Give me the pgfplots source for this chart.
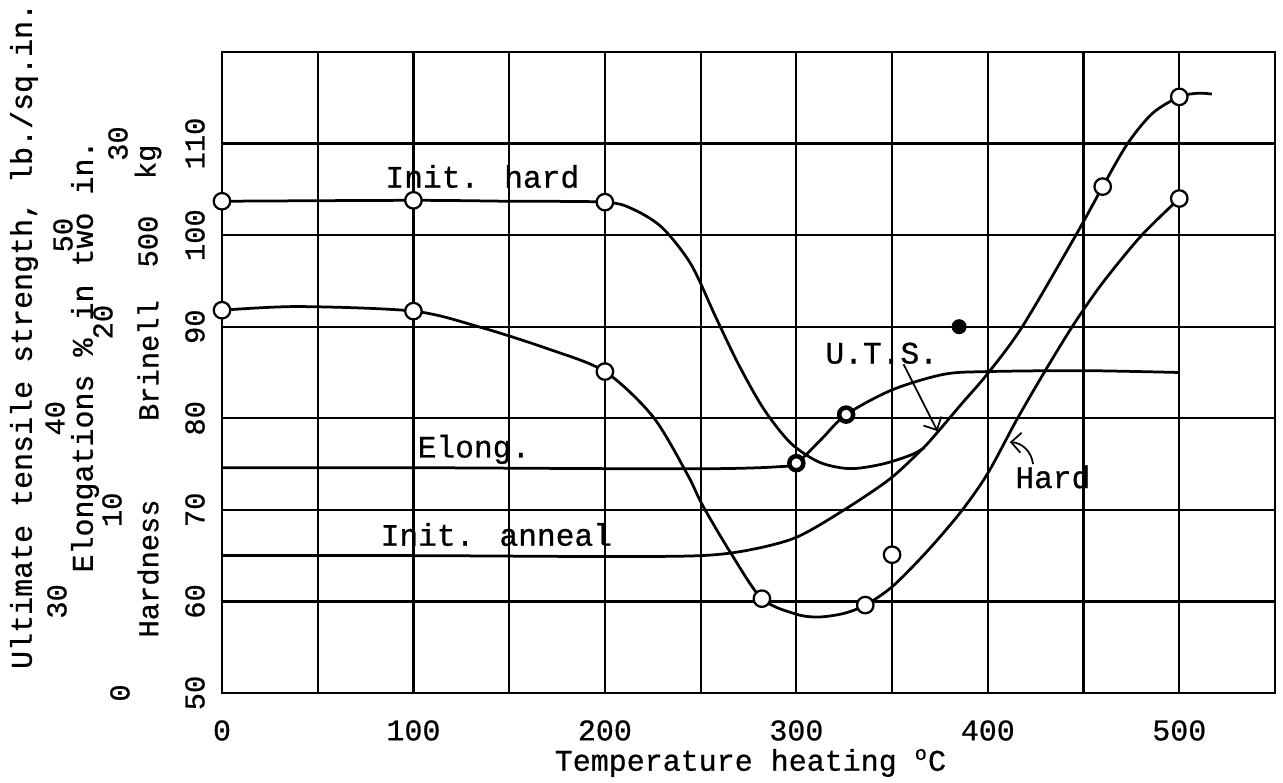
\documentclass[border=0pt]{standalone}
\usepackage{fontspec}
\setmainfont{Liberation Mono}[FakeBold=0.7]
\usepackage{pgfplots}
\pgfplotsset{compat=1.18}
\usetikzlibrary{arrows.meta}

\begin{document}
\begin{tikzpicture}
\begin{axis}[
  scale only axis, width=421.2pt, height=256.4pt,
  xmin=0, xmax=550, ymin=50, ymax=120,
  xtick={0,100,...,500}, minor xtick={50,150,...,550},
  ytick={50,60,...,110}, yticklabels={},
  grid=both,
  major grid style={black, line width=0.9pt},
  minor grid style={black, line width=0.9pt},
  axis line style={black, line width=1.1pt},
  major tick length=0pt, minor tick length=0pt,
  tick style={draw=none},
  xticklabel style={font=\fontsize{12}{12}\selectfont, anchor=center, yshift=-15pt},
  /pgf/number format/assume math mode=true,
  clip=false,
]
% Init. hard curve
\addplot[black, line width=1.1pt, smooth, tension=0.5] coordinates {
 (0,103.7) (100,103.8) (150,103.7) (200,103.6) (215,102.8) (230,100.8) (245,96.8) (258,91.0)
 (270,85.8) (283,81.0) (297,77.3) (312,75.2) (328,74.5) (345,75.0) (360,76.0) (367,76.8)};
% Init. anneal / U.T.S. curve
\addplot[black, line width=1.1pt, smooth, tension=0.5] coordinates {
 (0,65.0) (100,65.0) (200,64.9) (250,65.0) (275,65.6) (300,67.0) (325,70.0) (349,73.4)
 (366,76.7) (373,78.3) (386,81.5) (400,84.9) (418,90.0) (446,100.0) (460,105.3) (473,110.0)
 (486,113.3) (500,115.1) (510,115.5) (517,115.4)};
% Hard curve
\addplot[black, line width=1.1pt, smooth, tension=0.5] coordinates {
 (0,91.8) (40,92.2) (100,91.7) (134,90.0) (170,87.6) (200,85.1) (225,80.2) (243,73.9)
 (251,70.5) (266,65.2) (282,60.3) (300,58.6) (312,58.3) (325,58.7) (336,59.6) (350,61.6)
 (368,65.4) (386,69.8) (400,74.0) (415,79.8) (430,85.2) (445,90.3) (460,94.8) (480,99.9) (500,104.0)};
% Elong. curve
\addplot[black, line width=1.1pt, smooth, tension=0.5] coordinates {
 (0,74.6) (100,74.6) (200,74.5) (260,74.5) (290,74.7) (300,75.1) (313,77.7) (326,80.4)
 (350,83.1) (377,84.8) (400,85.1) (450,85.2) (500,85.0)};
% open circles
\addplot[only marks, mark=*, mark size=3.3pt, mark options={fill=white, draw=black, line width=0.9pt}] coordinates {
 (0,103.7) (100,103.8) (200,103.6) (0,91.8) (100,91.7) (200,85.1) (282,60.3) (336,59.6)
 (350,65.1) (460,105.3) (500,115.1) (500,104.0)};
% thick rings
\addplot[only marks, mark=*, mark size=2.8pt, mark options={fill=white, draw=black, line width=1.8pt}] coordinates {
 (300,75.1) (326,80.4)};
% filled dot
\addplot[only marks, mark=*, mark size=2.8pt, mark options={fill=black, draw=black}] coordinates {(385,90)};

% in-plot labels
\node[font=\fontsize{12.5}{12.5}\selectfont] at (axis cs:136,106.4) {Init. hard};
\node[font=\fontsize{12.5}{12.5}\selectfont] at (axis cs:131.6,76.6) {Elong.};
\node[font=\fontsize{12.5}{12.5}\selectfont] at (axis cs:143.3,67.3) {Init. anneal};
\node[font=\fontsize{12.5}{12.5}\selectfont] at (axis cs:344.6,87.1) {U.T.S.};
\node[font=\fontsize{12.5}{12.5}\selectfont] at (axis cs:434,73.6) {Hard};
\draw[-{Straight Barb[length=4pt]}, line width=0.7pt] (axis cs:356,85.9) -- (axis cs:373.7,78.6);
\draw[-{Straight Barb[length=4pt]}, line width=0.7pt] (axis cs:423.6,75.0) to[bend right=40] (axis cs:411.5,77.4);

% x label
\node[yshift=-28pt, font=\fontsize{12}{12}\selectfont] at (axis cs:276,50) {Temperature heating \textsuperscript{o}C};

% Hardness tick labels
\node[xshift=-10.8pt, rotate=90, font=\fontsize{11.5}{11.5}\selectfont] at (axis cs:0,50) {50};
\node[xshift=-10.8pt, rotate=90, font=\fontsize{11.5}{11.5}\selectfont] at (axis cs:0,60) {60};
\node[xshift=-10.8pt, rotate=90, font=\fontsize{11.5}{11.5}\selectfont] at (axis cs:0,70) {70};
\node[xshift=-10.8pt, rotate=90, font=\fontsize{11.5}{11.5}\selectfont] at (axis cs:0,80) {80};
\node[xshift=-10.8pt, rotate=90, font=\fontsize{11.5}{11.5}\selectfont] at (axis cs:0,90) {90};
\node[xshift=-10.8pt, rotate=90, font=\fontsize{11.5}{11.5}\selectfont] at (axis cs:0,100) {100};
\node[xshift=-10.8pt, rotate=90, font=\fontsize{11.5}{11.5}\selectfont] at (axis cs:0,110) {110};
% Elongation tick labels
\node[xshift=-40.8pt, rotate=90, font=\fontsize{11.5}{11.5}\selectfont] at (axis cs:0,50) {0};
\node[xshift=-44pt, rotate=90, font=\fontsize{11.5}{11.5}\selectfont] at (axis cs:0,70) {10};
\node[xshift=-47.6pt, rotate=90, font=\fontsize{11.5}{11.5}\selectfont] at (axis cs:0,90.5) {20};
\node[xshift=-41.6pt, rotate=90, font=\fontsize{11.5}{11.5}\selectfont] at (axis cs:0,110) {30};
% U.T.S. tick labels
\node[xshift=-66pt, rotate=90, font=\fontsize{11.5}{11.5}\selectfont] at (axis cs:0,60) {30};
\node[xshift=-66.8pt, rotate=90, font=\fontsize{11.5}{11.5}\selectfont] at (axis cs:0,80) {40};
\node[xshift=-63.6pt, rotate=90, font=\fontsize{11.5}{11.5}\selectfont] at (axis cs:0,100) {50};
% left axis titles
\node[xshift=-79.2pt, rotate=90, font=\fontsize{12}{12}\selectfont] at (axis cs:0,89.0) {Ultimate tensile strength, lb./sq.in.};
\node[xshift=-54.8pt, rotate=90, font=\fontsize{12}{12}\selectfont] at (axis cs:0,86.75) {Elongations \% in two in.};
\node[xshift=-29.6pt, rotate=90, font=\fontsize{11.5}{11.5}\selectfont] at (axis cs:0,63.6) {Hardness};
\node[xshift=-29.6pt, rotate=90, font=\fontsize{11.5}{11.5}\selectfont] at (axis cs:0,86.3) {Brinell};
\node[xshift=-29.6pt, rotate=90, font=\fontsize{11.5}{11.5}\selectfont] at (axis cs:0,99.3) {500};
\node[xshift=-29.6pt, rotate=90, font=\fontsize{11.5}{11.5}\selectfont] at (axis cs:0,108.0) {kg};
\end{axis}
\pgfresetboundingbox
\path ([xshift=-88.8pt,yshift=-36pt]current axis.south west) rectangle ([xshift=3.2pt,yshift=20.8pt]current axis.north east);
\end{tikzpicture}
\end{document}
